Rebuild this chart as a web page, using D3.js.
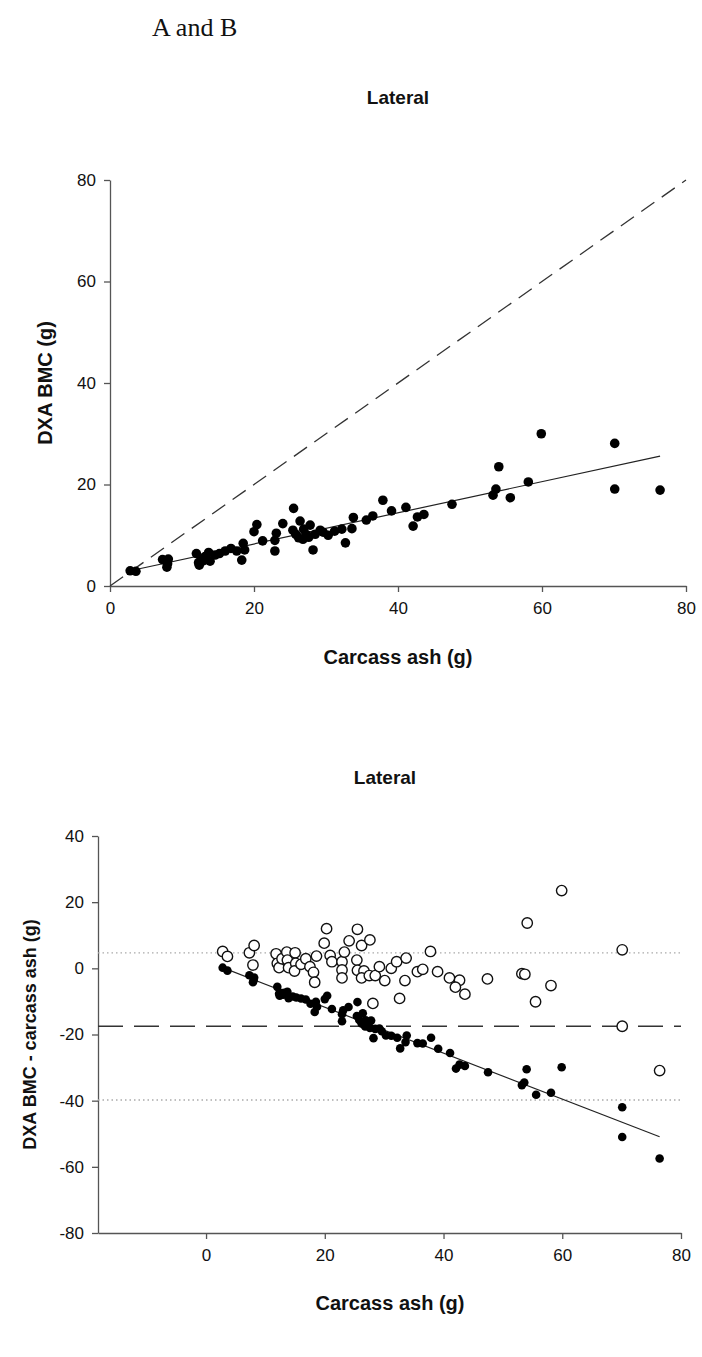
<!DOCTYPE html>
<html>
<head>
<meta charset="utf-8">
<script src="https://cdn.jsdelivr.net/npm/d3@7"></script>
<style>
  body { margin: 0; background: #fff; }
  text { font-family: "Liberation Sans", Arial, sans-serif; fill: #111; }
  .tick text { font-size: 17px; }
  .domain, .tick line { stroke: #555; stroke-width: 1.3; }
</style>
</head>
<body>
<div id="chart"></div>
<script>
// ---- data ----
// panel A : [carcass ash (g), DXA BMC (g)]
var ashBmc = [
  [2.8,3.0],[3.6,2.9],[7.3,5.2],[8.1,5.3],[7.9,3.7],[8.0,4.4],
  [12.0,6.4],[12.4,4.1],[12.7,5.2],[13.2,5.8],[13.7,6.6],[13.9,4.9],[12.3,4.6],[13.0,5.0],
  [14.6,6.1],[15.2,6.4],[16.0,6.9],[16.8,7.4],[17.6,6.9],[18.3,5.1],[18.5,8.4],[18.7,7.1],
  [20.0,10.7],[20.4,12.1],[21.2,8.9],[22.9,6.9],[22.9,9.0],[23.1,10.4],[24.0,12.3],
  [25.5,15.3],[25.4,11.0],[26.4,12.8],[26.2,9.5],[25.8,10.2],[26.8,9.2],[27.3,10.1],[26.9,11.2],
  [27.8,12.0],[28.2,7.1],[27.6,9.6],[28.5,10.2],[29.2,11.0],[29.6,10.6],[30.3,10.0],[31.2,10.8],
  [32.2,11.2],[32.7,8.5],[33.6,11.3],[33.8,13.5],[35.6,13.0],[36.5,13.8],[37.9,16.9],[39.1,14.8],
  [41.1,15.5],[42.1,11.8],[42.7,13.6],[43.6,14.1],[47.5,16.1],[53.2,17.9],[53.6,19.1],[54.0,23.5],
  [55.6,17.4],[58.1,20.5],[59.9,30.0],[70.1,28.1],[70.1,19.1],[76.4,18.9]
];
var fitA = [[2.8,3.0],[76.4,25.6]];
var identityA = [[0,0],[80,80]];

// panel B : [carcass ash (g), difference (g)]
var diffRaw = [
  [2.8,0.2],[3.6,-0.7],[7.3,-2.1],[8.1,-2.8],[7.9,-4.2],[8.0,-3.6],
  [12.0,-5.6],[12.4,-8.3],[12.7,-7.5],[13.2,-7.4],[13.7,-7.1],[13.9,-9.0],[12.3,-7.7],[13.0,-8.0],
  [14.6,-8.5],[15.2,-8.8],[16.0,-9.1],[16.8,-9.4],[17.6,-10.7],[18.3,-13.2],[18.5,-10.1],[18.7,-11.6],
  [20.0,-9.3],[20.4,-8.3],[21.2,-12.3],[22.9,-16.0],[22.9,-13.9],[23.1,-12.7],[24.0,-11.7],
  [25.5,-10.2],[25.4,-14.4],[26.4,-13.6],[26.2,-16.7],[25.8,-15.6],[26.8,-17.6],[27.3,-17.2],[26.9,-15.7],
  [27.8,-15.8],[28.2,-21.1],[27.6,-18.0],[28.5,-18.3],[29.2,-18.2],[29.6,-19.0],[30.3,-20.3],[31.2,-20.4],
  [32.2,-21.0],[32.7,-24.2],[33.6,-22.3],[33.8,-20.3],[35.6,-22.6],[36.5,-22.7],[37.9,-21.0],[39.1,-24.3],
  [41.1,-25.6],[42.1,-30.3],[42.7,-29.1],[43.6,-29.5],[47.5,-31.4],[53.2,-35.3],[53.6,-34.5],[54.0,-30.5],
  [55.6,-38.2],[58.1,-37.6],[59.9,-29.9],[70.1,-42.0],[70.1,-51.0],[76.4,-57.5]
];
var diffCorrected = [
  [2.8,5.1],[3.6,3.6],[7.3,4.7],[8.1,6.9],[7.9,1.0],
  [11.8,4.4],[12.0,1.5],[12.3,0.2],[12.8,2.9],[13.6,4.9],[13.7,2.5],[13.9,0.2],
  [15.0,4.7],[15.1,1.5],[14.9,-0.8],[16.0,1.2],[16.8,2.9],[17.5,0.5],[18.1,-1.2],[18.3,-4.2],[18.6,3.7],
  [19.9,7.6],[20.3,12.0],[20.9,3.9],[21.2,2.0],
  [22.9,2.0],[22.9,-0.5],[22.9,-2.9],[23.3,4.9],[24.1,8.3],
  [25.5,11.8],[25.4,2.5],[25.5,-0.6],[26.2,6.9],[27.6,8.6],
  [26.6,-0.8],[26.2,-2.9],[27.5,-2.2],[28.5,-2.2],[28.1,-10.6],
  [29.2,0.5],[30.1,-3.7],[31.2,0.0],[32.1,2.0],[33.7,3.1],[33.5,-3.7],[32.6,-9.1],
  [35.6,-1.0],[36.5,-0.3],[37.8,5.1],[39.0,-1.0],
  [41.0,-2.9],[42.7,-3.6],[42.0,-5.7],[43.6,-7.8],[47.4,-3.2],
  [53.2,-1.6],[53.7,-1.8],[54.1,13.7],[55.5,-10.1],[58.1,-5.2],[59.9,23.5],
  [70.1,5.6],[70.1,-17.5],[76.4,-30.9]
];
var fitB = [[2.8,0.2],[76.4,-50.9]];
var meanDiff = -17.5;
var limitsDiff = [4.7, -39.8];

var xTicksA = [0, 20, 40, 60, 80];
var yTicksA = [0, 20, 40, 60, 80];
var xTicksB = [0, 20, 40, 60, 80];
var yTicksB = [40, 20, 0, -20, -40, -60, -80];

// plain hyphen minus, like the original figure
var plain = d => String(d);

// ---- page ----
var svgWidth = 702;
var svgHeight = 1357;

var svg = d3.select("#chart")
  .append("svg")
  .attr("width", svgWidth)
  .attr("height", svgHeight);

svg.append("text")
  .attr("x", 152).attr("y", 36)
  .style("font-family", "'Liberation Serif', 'Times New Roman', serif")
  .style("font-size", "26px")
  .text("A and B");

// ================= panel A =================
var xA = d3.scaleLinear().domain([0, 80]).range([110, 686]);
var yA = d3.scaleLinear().domain([0, 80]).range([586, 180]);

svg.append("text")
  .attr("x", 398).attr("y", 104)
  .attr("text-anchor", "middle")
  .style("font-size", "19px").style("font-weight", "bold")
  .text("Lateral");

svg.append("g")
  .attr("transform", "translate(0," + yA(0) + ")")
  .call(d3.axisBottom(xA).tickValues(xTicksA).tickFormat(plain).tickSize(6).tickSizeOuter(0).tickPadding(10));

svg.append("g")
  .attr("transform", "translate(" + xA(0) + ",0)")
  .call(d3.axisLeft(yA).tickValues(yTicksA).tickFormat(plain).tickSize(6).tickSizeOuter(0).tickPadding(8));

var lineA = d3.line().x(d => xA(d[0])).y(d => yA(d[1]));

svg.append("path")
  .datum(identityA)
  .attr("d", lineA)
  .attr("fill", "none")
  .attr("stroke", "#333")
  .attr("stroke-width", 1.3)
  .attr("stroke-dasharray", "16,9");

svg.append("path")
  .datum(fitA)
  .attr("d", lineA)
  .attr("fill", "none")
  .attr("stroke", "#222")
  .attr("stroke-width", 1.2);

svg.append("g").selectAll("circle")
  .data(ashBmc)
  .enter()
  .append("circle")
  .attr("cx", d => xA(d[0]))
  .attr("cy", d => yA(d[1]))
  .attr("r", 4.8)
  .attr("fill", "#000");

svg.append("text")
  .attr("x", 398).attr("y", 664)
  .attr("text-anchor", "middle")
  .style("font-size", "20px").style("font-weight", "bold")
  .text("Carcass ash (g)");

svg.append("text")
  .attr("transform", "translate(52," + yA(40) + ") rotate(-90)")
  .attr("text-anchor", "middle")
  .style("font-size", "20px").style("font-weight", "bold")
  .text("DXA BMC (g)");

// ================= panel B =================
var xB = d3.scaleLinear().domain([-18.2, 80]).range([98, 681]);
var yB = d3.scaleLinear().domain([-80, 40]).range([1233, 836]);

svg.append("text")
  .attr("x", 385).attr("y", 784)
  .attr("text-anchor", "middle")
  .style("font-size", "19px").style("font-weight", "bold")
  .text("Lateral");

svg.append("g")
  .attr("transform", "translate(0," + yB(-80) + ")")
  .call(d3.axisBottom(xB).tickValues(xTicksB).tickFormat(plain).tickSize(6).tickSizeOuter(0).tickPadding(10));

svg.append("g")
  .attr("transform", "translate(" + xB(-18.2) + ",0)")
  .call(d3.axisLeft(yB).tickValues(yTicksB).tickFormat(plain).tickSize(6).tickSizeOuter(0).tickPadding(8));

var hLine = function(v) { return [[-18.2, v], [80, v]]; };
var lineB = d3.line().x(d => xB(d[0])).y(d => yB(d[1]));

svg.append("g").selectAll("path")
  .data(limitsDiff)
  .enter()
  .append("path")
  .attr("d", v => lineB(hLine(v)))
  .attr("stroke", "#aaa")
  .attr("stroke-width", 1.3)
  .attr("stroke-dasharray", "1.5,3");

svg.append("path")
  .attr("d", lineB(hLine(meanDiff)))
  .attr("stroke", "#333")
  .attr("stroke-width", 1.3)
  .attr("stroke-dasharray", "25,11");

svg.append("path")
  .datum(fitB)
  .attr("d", lineB)
  .attr("fill", "none")
  .attr("stroke", "#222")
  .attr("stroke-width", 1.2);

svg.append("g").selectAll("circle")
  .data(diffCorrected)
  .enter()
  .append("circle")
  .attr("cx", d => xB(d[0]))
  .attr("cy", d => yB(d[1]))
  .attr("r", 5.2)
  .attr("fill", "#fff")
  .attr("stroke", "#111")
  .attr("stroke-width", 1.4);

svg.append("g").selectAll("circle")
  .data(diffRaw)
  .enter()
  .append("circle")
  .attr("cx", d => xB(d[0]))
  .attr("cy", d => yB(d[1]))
  .attr("r", 4.3)
  .attr("fill", "#000");

svg.append("text")
  .attr("x", 390).attr("y", 1310)
  .attr("text-anchor", "middle")
  .style("font-size", "20px").style("font-weight", "bold")
  .text("Carcass ash (g)");

svg.append("text")
  .attr("transform", "translate(36," + yB(-20) + ") rotate(-90)")
  .attr("text-anchor", "middle")
  .style("font-size", "18px").style("font-weight", "bold")
  .text("DXA BMC - carcass ash (g)");
</script>
</body>
</html>
